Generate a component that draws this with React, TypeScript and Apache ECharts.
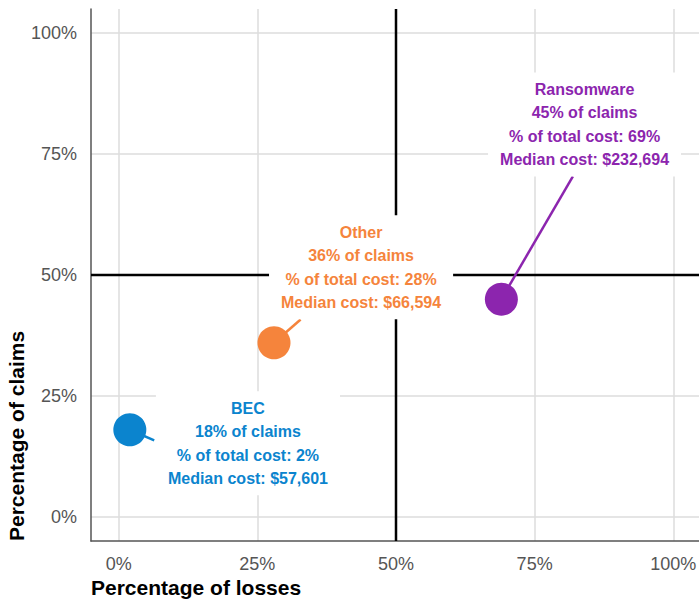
import { useEffect, useRef } from "react";
import * as echarts from "echarts";

// Claim types: share of total losses (x) against share of claims (y)
const groups = ["BEC", "Other", "Ransomware"];
const claimsPct = [18, 36, 45];
const costSharePct = [2, 28, 69];
const medianCost = [57601, 66594, 232694];
const groupColors = ["#0B84CE", "#F5843C", "#8C25AE"];
const tickValues = [0, 25, 50, 75, 100];

// Callout layout in data units: centre of each text box, and where its leader meets the box
const calloutCentre = [
  [23.3, 15.2],
  [43.7, 51.6],
  [84.0, 81.1],
];
const leaderEnd = [
  [6.4, 15.8],
  [32.8, 40.8],
  [81.9, 70.4],
];

const FONT = "'Liberation Sans', Arial, Helvetica, sans-serif";

function calloutText(i: number): string {
  return [
    groups[i],
    `${claimsPct[i]}% of claims`,
    `% of total cost: ${costSharePct[i]}%`,
    `Median cost: $${medianCost[i].toLocaleString("en-US")}`,
  ].join("\n");
}

export default function App() {
  const ref = useRef<HTMLDivElement>(null);

  useEffect(() => {
    if (!ref.current) return;
    const chart = echarts.init(ref.current, undefined, { renderer: "svg" });

    const axisCommon = {
      type: "value" as const,
      min: -5,
      max: 105,
      axisLine: { show: true, onZero: false, lineStyle: { color: "#555", width: 1.5 } },
      axisTick: { show: false, customValues: tickValues },
      axisLabel: {
        customValues: tickValues,
        formatter: "{value}%",
        color: "#555",
        fontSize: 18,
        fontFamily: FONT,
        margin: 14,
      },
      splitLine: { show: true, lineStyle: { color: "#dddddd", width: 1.5 } },
    };

    const connectorSeries = groups.map((g, i) => ({
      type: "line",
      name: `${g} leader`,
      z: 3,
      silent: true,
      symbol: "none",
      data: [[costSharePct[i], claimsPct[i]], leaderEnd[i]],
      lineStyle: { color: groupColors[i], width: 2.5 },
    }));

    chart.setOption({
      animation: false,
      grid: { left: 91, top: 9, width: 610, height: 532, containLabel: false, outerBoundsMode: "none" },
      xAxis: axisCommon,
      yAxis: axisCommon,
      graphic: [
        {
          type: "text",
          x: 91,
          y: 587,
          style: {
            text: "Percentage of losses",
            font: `bold 21px ${FONT}`,
            fill: "#000",
            textAlign: "left",
            textVerticalAlign: "middle",
          },
        },
        {
          type: "text",
          x: 16,
          y: 541,
          rotation: Math.PI / 2,
          style: {
            text: "Percentage of claims",
            font: `bold 21px ${FONT}`,
            fill: "#000",
            textAlign: "left",
            textVerticalAlign: "middle",
          },
        },
      ],
      series: [
        {
          type: "line",
          name: "50% losses",
          z: 2,
          silent: true,
          symbol: "none",
          data: [
            [50, -5],
            [50, 105],
          ],
          lineStyle: { color: "#000", width: 2.5 },
        },
        {
          type: "line",
          name: "50% claims",
          z: 2,
          silent: true,
          symbol: "none",
          data: [
            [-5, 50],
            [105, 50],
          ],
          lineStyle: { color: "#000", width: 2.5 },
        },
        ...connectorSeries,
        {
          type: "scatter",
          name: "callouts",
          z: 4,
          silent: true,
          symbol: "rect",
          symbolSize: 1,
          itemStyle: { color: "rgba(0,0,0,0)", opacity: 1 },
          data: calloutCentre.map((c, i) => ({
            value: c,
            label: {
              show: true,
              position: "inside",
              formatter: calloutText(i),
              color: groupColors[i],
            },
          })),
          label: {
            show: true,
            fontFamily: FONT,
            fontSize: 16,
            fontWeight: "bold",
            lineHeight: 23.5,
            align: "center",
            verticalAlign: "middle",
            backgroundColor: "#fff",
            opacity: 1,
            padding: [5, 12],
          },
        },
        {
          type: "scatter",
          name: "claim types",
          z: 5,
          silent: true,
          symbolSize: 33,
          data: groups.map((g, i) => ({
            name: g,
            value: [costSharePct[i], claimsPct[i]],
            itemStyle: { color: groupColors[i], opacity: 1 },
          })),
        },
      ],
    });

    return () => chart.dispose();
  }, []);

  return (
    <div
      ref={ref}
      style={{ position: "absolute", left: 0, top: 0, width: 699, height: 603 }}
    />
  );
}
